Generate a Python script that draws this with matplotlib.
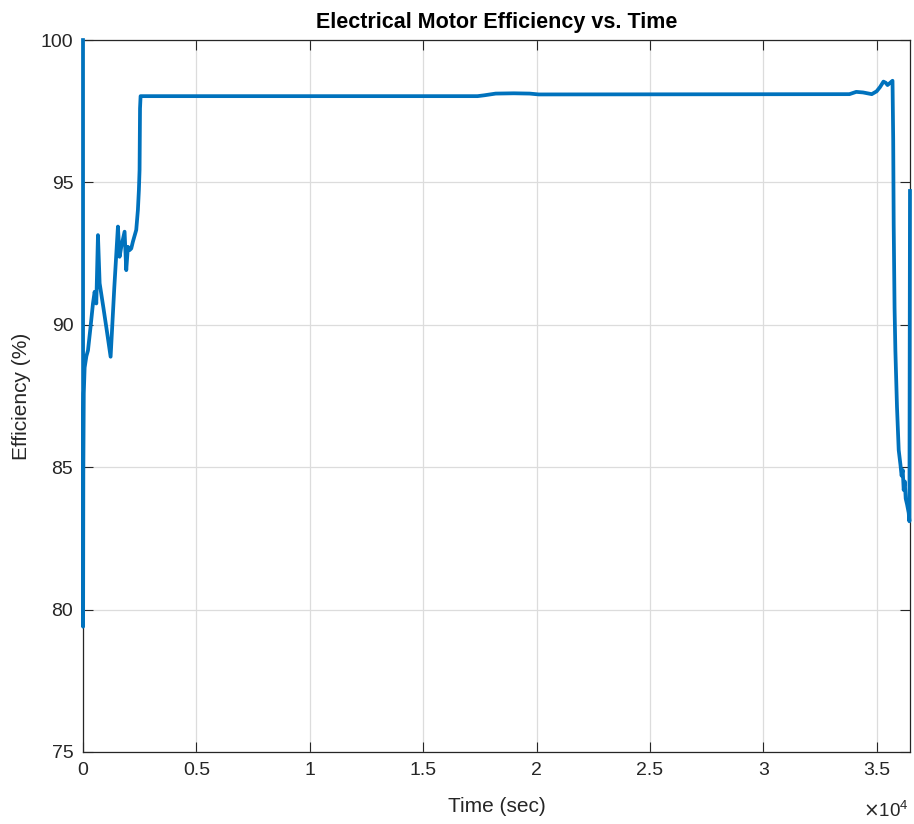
import matplotlib
matplotlib.use("Agg")
import matplotlib.pyplot as plt
from matplotlib.ticker import FuncFormatter

# time (s) and motor efficiency (%)
time_s = [0, 5, 15, 35, 73, 150, 220, 330, 440, 513, 587, 660, 734, 900, 1050,
          1218, 1380, 1541, 1614, 1688, 1834, 1908, 1981, 2050, 2128, 2201,
          2348, 2421, 2465, 2495, 2515, 2540, 17400, 17700, 18200, 19000,
          19700, 20100, 33800, 34100, 34400, 34784, 35000, 35150, 35300,
          35400, 35480, 35600, 35700, 35730, 35752, 35790, 35826, 35897,
          35973, 36048, 36100, 36150, 36193, 36240, 36281, 36340, 36413,
          36445, 36470]
efficiency = [100.0, 79.4, 84.8, 87.6, 88.5, 88.9, 89.1, 89.9, 90.75, 91.16,
              90.75, 93.15, 91.46, 90.6, 89.8, 88.88, 91.3, 93.45, 92.39,
              92.74, 93.27, 91.92, 92.74, 92.62, 92.68, 92.92, 93.33, 94.03,
              94.73, 95.44, 97.6, 98.03, 98.03, 98.06, 98.12, 98.13, 98.12,
              98.09, 98.1, 98.18, 98.16, 98.1, 98.2, 98.35, 98.54, 98.5,
              98.42, 98.5, 98.57, 96.5, 93.5, 90.6, 89.1, 87.12, 85.6, 85.1,
              84.7, 84.9, 84.2, 84.5, 83.9, 83.7, 83.4, 83.1, 94.7]

xticks = [0, 5000, 10000, 15000, 20000, 25000, 30000, 35000]
yticks = [75, 80, 85, 90, 95, 100]

plt.rcParams['font.family'] = ['Liberation Sans', 'DejaVu Sans']
txt = '#262626'

fig = plt.figure(figsize=(9.14, 8.24), dpi=100)
ax = fig.add_axes([0.0908, 0.0874, 0.9048, 0.864])

ax.plot(time_s, efficiency, color='#0072BD', lw=2.7, solid_joinstyle='round',
        clip_on=False, zorder=3)

ax.set_xlim(0, time_s[-1])
ax.set_ylim(75, 100)
ax.set_xticks(xticks)
ax.set_yticks(yticks)
ax.xaxis.set_major_formatter(FuncFormatter(lambda v, p: f"{v / 1e4:g}"))

ax.grid(True, color='#dcdcdc', lw=0.9)
ax.set_axisbelow(True)
ax.tick_params(direction='in', top=True, right=True, length=7, width=0.8,
               colors=txt, labelsize=14, pad=7)
for s in ax.spines.values():
    s.set_color(txt)
    s.set_linewidth(0.9)

ax.set_title('Electrical Motor Efficiency vs. Time', fontsize=15.5,
             fontweight='bold', color='black', pad=9)
ax.set_xlabel('Time (sec)', fontsize=15, color=txt, labelpad=13)
ax.set_ylabel('Efficiency (%)', fontsize=15, color=txt, labelpad=7)
ax.text(0.998, -0.083, r'$\times\mathregular{10^4}$', transform=ax.transAxes,
        ha='right', va='center', fontsize=13.5, color=txt)

fig.savefig('out.png', dpi=100)
